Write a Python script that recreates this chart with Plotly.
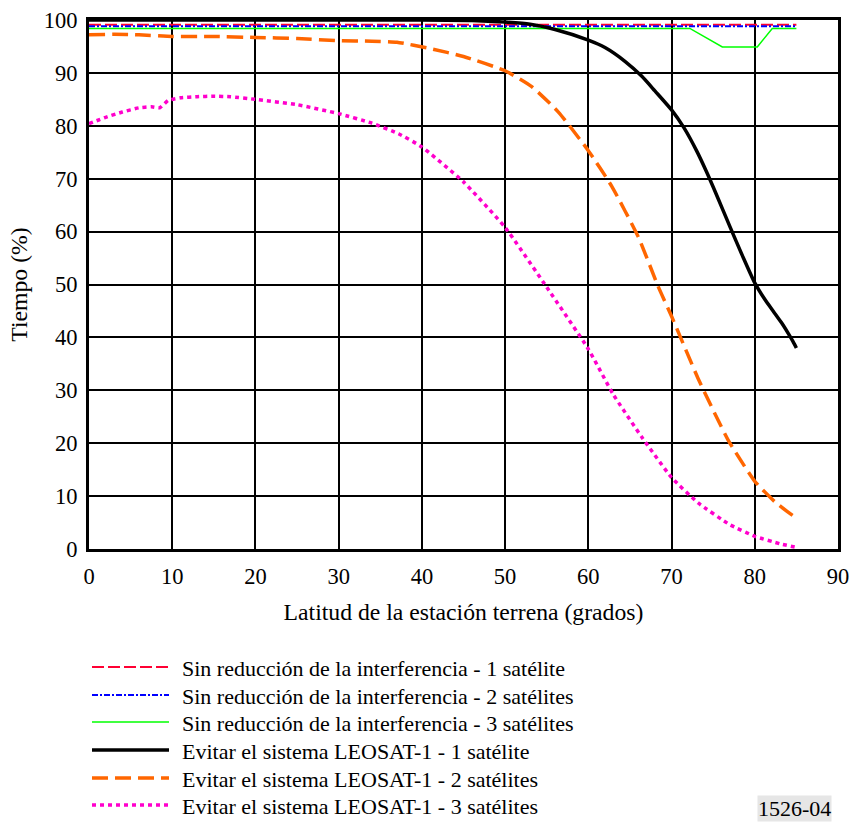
import plotly.graph_objects as go

# --- data ---
lat_flat = [0, 85]
sin_1 = [99.1, 99.1]
sin_2 = [98.8, 98.8]
lat_sin3 = [0, 72.2, 76.1, 80.3, 82.1, 85]
sin_3 = [98.4, 98.4, 94.9, 94.9, 98.4, 98.4]

lat_evit1 = [0, 10, 20, 30, 40, 46, 50, 53, 56, 60, 62, 64.4, 66.4, 68, 70, 71.5, 73, 74.2, 75.5, 77, 78.5, 80, 81.2, 82.2, 83.2, 84, 84.6, 85]
evit_1 = [100, 100, 100, 100, 100, 99.9, 99.6, 99.2, 98.2, 96.2, 94.8, 92.2, 89.4, 86.6, 83.0, 79.6, 75.3, 71.3, 66.6, 61.0, 55.5, 50.3, 47.2, 45.0, 42.8, 40.8, 39.2, 38.0]

lat_evit2 = [0, 3, 6, 10, 15, 20, 25, 30, 34, 37, 41, 45, 50, 53.2, 56.4, 60, 62.8, 66, 68.4, 70, 73.2, 76.8, 80, 82.5, 84.6, 85]
evit_2 = [97.2, 97.3, 97.2, 96.9, 96.9, 96.7, 96.5, 96.1, 96.0, 95.8, 94.6, 93.1, 90.4, 87.4, 82.6, 75.3, 68.6, 59.0, 49.6, 44.0, 32.2, 20.6, 12.8, 8.8, 6.3, 6.0]

lat_evit3 = [0, 2, 4, 6, 7.5, 8.5, 9.5, 11, 13, 15, 17, 20, 25, 30, 34, 37.2, 40, 45, 50, 55, 60, 63, 66.4, 70, 73.2, 77, 80, 83, 85]
evit_3 = [80.4, 81.6, 82.6, 83.4, 83.6, 83.4, 84.8, 85.3, 85.5, 85.6, 85.5, 85.0, 84.0, 82.3, 80.5, 78.5, 76.0, 69.4, 60.8, 49.5, 37.8, 29.2, 21.2, 13.5, 8.7, 4.6, 2.4, 1.0, 0.3]

names = [
    "Sin reducción de la interferencia - 1 satélite",
    "Sin reducción de la interferencia - 2 satélites",
    "Sin reducción de la interferencia - 3 satélites",
    "Evitar el sistema LEOSAT-1 - 1 satélite",
    "Evitar el sistema LEOSAT-1 - 2 satélites",
    "Evitar el sistema LEOSAT-1 - 3 satélites",
]
x_ticks = list(range(0, 91, 10))
y_ticks = list(range(0, 101, 10))

FONT = "Liberation Serif"

styles = [
    dict(color="#ff0033", width=2, dash="12px,4px"),
    dict(color="#0000ff", width=2, dash="6px,2px,2px,2px"),
    dict(color="#00ff00", width=1.5),
    dict(color="#000000", width=3.5),
    dict(color="#ff6600", width=3.5, dash="16px,7px"),
    dict(color="#ff00cc", width=3.5, dash="4px,4px"),
]

series = [
    (lat_flat, sin_1, 0),
    (lat_flat, sin_2, 0),
    (lat_sin3, sin_3, 0),
    (lat_evit1, evit_1, 0.6),
    (lat_evit2, evit_2, 0.5),
    (lat_evit3, evit_3, 0.4),
]

fig = go.Figure()
for (xs, ys, smooth), nm, st in zip(series, names, styles):
    line = dict(st)
    if smooth:
        line.update(shape="spline", smoothing=smooth)
    fig.add_trace(go.Scatter(x=xs, y=ys, mode="lines", name=nm, line=line, showlegend=False))

# plot-area geometry (px) used only for placing the manual legend
L, R, T, B = 89, 838, 20, 549
def px_x(p):
    return (p - L) / (R - L)
def px_y(p):
    return (B - p) / (B - T)

legend_rows = [667, 695, 722, 750, 778, 805]
for nm, st, yp in zip(names, styles, legend_rows):
    fig.add_shape(type="line", xref="paper", yref="paper",
                  x0=px_x(92), x1=px_x(169), y0=px_y(yp), y1=px_y(yp),
                  line=dict(color=st["color"], width=st["width"], dash=st.get("dash", "solid")))
    fig.add_annotation(xref="paper", yref="paper", x=px_x(180), y=px_y(yp + 1),
                       xanchor="left", yanchor="middle", text=nm, showarrow=False,
                       font=dict(size=22, family=FONT, color="black"))

fig.update_layout(
    width=854, height=823,
    margin=dict(l=L, r=854 - R, t=T, b=823 - B, autoexpand=False),
    paper_bgcolor="white", plot_bgcolor="white",
    font=dict(family=FONT, size=22, color="black"),
    xaxis=dict(range=[0, 90], tickvals=x_ticks, showgrid=True, gridcolor="black", gridwidth=2,
               showline=True, linecolor="black", linewidth=3, mirror=True, zeroline=False,
               ticks="", ticklabelstandoff=5, tickfont=dict(family=FONT, size=22.5),
               title=dict(text="Latitud de la estación terrena (grados)", font=dict(size=23.7, family=FONT), standoff=16)),
    yaxis=dict(range=[0, 100], tickvals=y_ticks, showgrid=True, gridcolor="black", gridwidth=2,
               showline=True, linecolor="black", linewidth=3, mirror=True, zeroline=False,
               ticks="", ticklabelstandoff=4, tickfont=dict(family=FONT, size=22.5),
               title=dict(text="Tiempo (%)", font=dict(size=23.7, family=FONT), standoff=10)),
    showlegend=False,
)

fig.add_annotation(xref="paper", yref="paper", x=px_x(832), y=px_y(808), xanchor="right", yanchor="middle",
                   text="1526-04", showarrow=False, bgcolor="#e6e6e6", borderpad=0,
                   font=dict(size=22, family=FONT))

fig.write_html("out.html")
